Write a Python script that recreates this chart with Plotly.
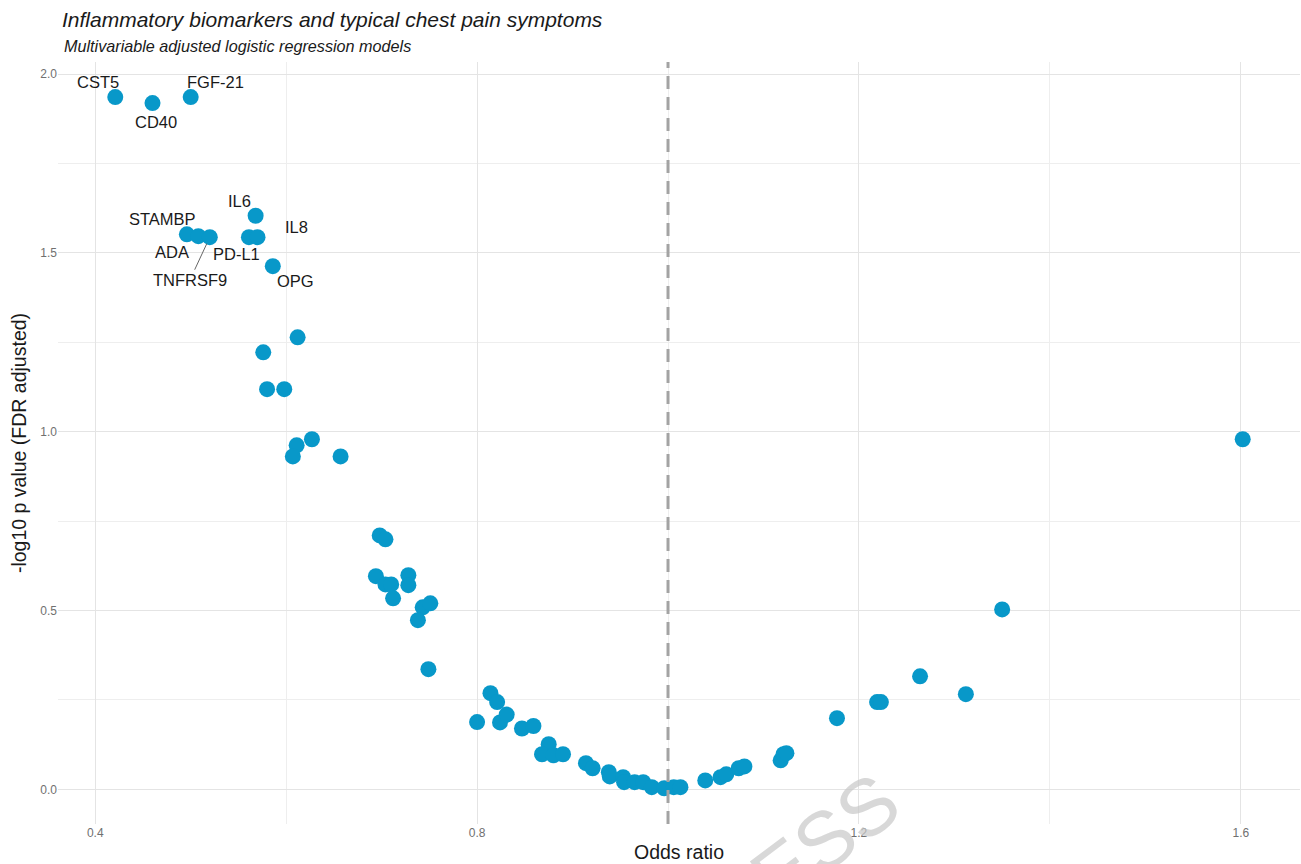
import plotly.graph_objects as go

# Odds ratios and -log10 FDR-adjusted p values per biomarker
biomarker = [
    "CST5", "CD40", "FGF-21", "IL6", "STAMBP", "ADA", "TNFRSF9", "PD-L1", "IL8", "OPG",
] + [""] * 58

odds_ratio = [
    0.421, 0.460, 0.500, 0.568, 0.496, 0.508, 0.520, 0.561, 0.570, 0.586,
    0.612, 0.576, 0.580, 0.598, 0.627, 0.611, 0.607, 0.657,
    0.698, 0.704, 0.694, 0.704, 0.710, 0.728, 0.728, 0.712, 0.743, 0.751, 0.738, 0.749,
    0.814, 0.821, 0.800, 0.824, 0.831, 0.847, 0.859, 0.875, 0.868, 0.880, 0.890,
    0.914, 0.921, 0.938, 0.939, 0.953, 0.954, 0.965, 0.974, 0.983, 0.996, 1.006, 1.013,
    1.039, 1.055, 1.061, 1.074, 1.080, 1.118, 1.121, 1.124, 1.177, 1.219, 1.223,
    1.264, 1.312, 1.350, 1.602,
]

neg_log10_p = [
    1.936, 1.919, 1.936, 1.604, 1.552, 1.547, 1.544, 1.544, 1.544, 1.463,
    1.264, 1.222, 1.119, 1.119, 0.979, 0.962, 0.931, 0.931,
    0.710, 0.699, 0.596, 0.573, 0.573, 0.599, 0.571, 0.534, 0.509, 0.520, 0.473, 0.336,
    0.269, 0.244, 0.188, 0.187, 0.209, 0.170, 0.177, 0.126, 0.098, 0.095, 0.098,
    0.073, 0.059, 0.048, 0.036, 0.034, 0.020, 0.020, 0.020, 0.006, 0.003, 0.006, 0.006,
    0.025, 0.034, 0.042, 0.059, 0.064, 0.081, 0.098, 0.101, 0.199, 0.244, 0.244,
    0.316, 0.266, 0.503, 0.979,
]

x_ticks = [0.4, 0.8, 1.2, 1.6]
y_ticks = [0.0, 0.5, 1.0, 1.5, 2.0]

# label placement (pixel offsets from the point) and whether a leader segment is drawn
label_offsets = {
    "CST5": (-17, -15, False),
    "CD40": (3, 19, False),
    "FGF-21": (25, -15, False),
    "IL6": (-16, -15, False),
    "STAMBP": (-24, -15, False),
    "ADA": (-26, 16, False),
    "TNFRSF9": (-20, 43, True),
    "PD-L1": (-12, 17, False),
    "IL8": (39, -10, False),
    "OPG": (23, 15, False),
}

POINT_COLOR = "#0898C9"
FONT = "Liberation Sans, Arial, sans-serif"

fig = go.Figure()
fig.add_trace(go.Scatter(
    x=odds_ratio, y=neg_log10_p, mode="markers",
    marker=dict(size=16, color=POINT_COLOR, line=dict(width=0)),
    text=biomarker, hoverinfo="x+y+text", showlegend=False,
))

# reference line at OR = 1
fig.add_shape(type="line", xref="x", yref="paper", x0=1.0, x1=1.0, y0=0, y1=1,
              line=dict(color="#a3a3a3", width=3, dash="13px,8px"), layer="above")

annotations = []
for name, xv, yv in zip(biomarker, odds_ratio, neg_log10_p):
    if not name:
        continue
    dx, dy, seg = label_offsets[name]
    annotations.append(dict(
        x=xv, y=yv, xref="x", yref="y", text=name, showarrow=True,
        ax=dx, ay=dy, axref="pixel", ayref="pixel",
        arrowhead=0, arrowwidth=1,
        arrowcolor="#666666" if seg else "rgba(0,0,0,0)",
        standoff=7, font=dict(family=FONT, size=16.5, color="#1a1a1a"),
    ))

# subtitle
annotations.append(dict(
    x=0, y=1, xref="paper", yref="paper", xanchor="left", yanchor="middle",
    xshift=4, yshift=16, showarrow=False,
    text="<i>Multivariable adjusted logistic regression models</i>",
    font=dict(family=FONT, size=16.2, color="#1a1a1a"),
))

# faint watermark
annotations.append(dict(
    x=0.6176, y=-0.02, xref="paper", yref="paper", xanchor="center", yanchor="middle",
    showarrow=False, text="ESS", textangle=-37,
    font=dict(family=FONT, size=80, color="rgba(200,200,200,0.7)"),
))

fig.update_layout(
    width=1301, height=864,
    margin=dict(l=58, r=1, t=62, b=40),
    paper_bgcolor="white", plot_bgcolor="white",
    font=dict(family=FONT, color="#1a1a1a"),
    title=dict(
        text="<i>Inflammatory biomarkers and typical chest pain symptoms</i>",
        xref="container", yref="container", x=62 / 1301, y=1 - 20 / 864,
        xanchor="left", yanchor="middle",
        font=dict(family=FONT, size=21, color="#1a1a1a"),
    ),
    annotations=annotations,
)

fig.update_xaxes(
    range=[0.361, 1.662], tickvals=x_ticks, tickformat=".1f",
    showgrid=True, gridcolor="#e4e4e4", gridwidth=1,
    minor=dict(dtick=0.2, tick0=0.4, showgrid=True, gridcolor="#eeeeee", gridwidth=1),
    zeroline=False, showline=False, ticks="",
    tickfont=dict(family=FONT, size=12, color="#707070"),
    title=dict(text="Odds ratio", font=dict(family=FONT, size=19.5, color="#1a1a1a"), standoff=6),
)
fig.update_yaxes(
    range=[-0.097, 2.034], tickvals=y_ticks, tickformat=".1f",
    showgrid=True, gridcolor="#e4e4e4", gridwidth=1,
    minor=dict(dtick=0.25, tick0=0, showgrid=True, gridcolor="#eeeeee", gridwidth=1),
    zeroline=False, showline=False, ticks="",
    tickfont=dict(family=FONT, size=12, color="#707070"),
    title=dict(text="-log10 p value (FDR adjusted)", font=dict(family=FONT, size=19.5, color="#1a1a1a"), standoff=8),
)

fig.write_html("out.html")
